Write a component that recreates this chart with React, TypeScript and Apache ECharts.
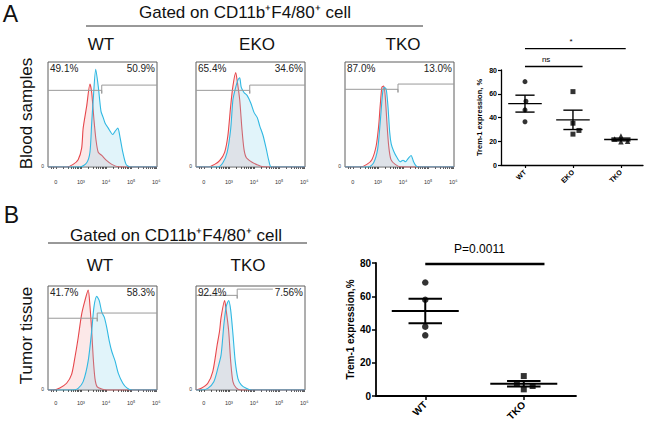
import React, { useEffect, useRef } from 'react';
import * as echarts from 'echarts';

const FONT = '"Liberation Sans", Arial, Helvetica, sans-serif';

// ---------- Flow cytometry histograms ----------
// x: display position (0 = "0", 1 = 10^3, 2 = 10^4, 3 = 10^5, 4 = 10^6); y: height in % of panel
const histTickValues = [0, 1, 2, 3, 4];
const histTickLabels = ['0', '10³', '10⁴', '10⁵', '10⁶'];
const HIST_MIN = -0.31;
const HIST_MAX = 4.03;

const histLeftPct = ['49.1%', '65.4%', '87.0%', '41.7%', '92.4%'];
const histRightPct = ['50.9%', '34.6%', '13.0%', '58.3%', '7.56%'];
const gateSplit = [1.83, 1.83, 1.8, 1.65, 1.33];
const gateLeftLevel = [73, 73, 74, 69, 91];
const gateRightLevel = [78, 78, 79, 74, 97];
const gateRightEnd = [4.03, 4.03, 4.03, 4.03, 2.75];

const isoAWt = [[-0.31, 0], [0.43, 0], [0.69, 2.5], [0.89, 7], [1.03, 18], [1.09, 37], [1.23, 58], [1.36, 79], [1.43, 71], [1.52, 45], [1.6, 26], [1.69, 14], [1.83, 11], [2.03, 6], [2.23, 2.5], [2.5, 0.3], [4.03, 0]];
const tremAWt = [[-0.31, 0], [0.96, 0], [1.23, 4], [1.36, 14], [1.43, 42], [1.49, 64], [1.59, 93], [1.69, 77], [1.8, 53], [1.89, 47], [1.96, 42], [2.09, 37], [2.27, 31], [2.36, 34], [2.47, 37], [2.56, 28], [2.67, 14], [2.8, 2.5], [2.96, 0], [4.03, 0]];
const isoAEko = [[-0.31, 0], [0.16, 0], [0.43, 2.5], [0.63, 6], [0.83, 14], [0.96, 30], [1.07, 58], [1.16, 77], [1.27, 90], [1.33, 82], [1.43, 64], [1.52, 36], [1.6, 17], [1.69, 9], [1.89, 5], [2.09, 2.5], [2.36, 0.3], [4.03, 0]];
const tremAEko = [[-0.31, 0], [0.56, 0], [0.76, 4], [0.93, 14], [1.07, 36], [1.16, 64], [1.25, 74], [1.36, 83], [1.43, 85], [1.49, 76], [1.6, 71], [1.73, 68], [1.87, 61], [2.0, 52], [2.13, 47], [2.23, 39], [2.36, 30], [2.49, 17], [2.59, 6], [2.69, 0], [4.03, 0]];
const isoATko = [[-0.31, 0], [0.29, 0], [0.56, 2.5], [0.76, 7], [0.93, 20], [1.03, 39], [1.09, 58], [1.16, 76], [1.23, 77], [1.29, 68], [1.36, 42], [1.43, 20], [1.52, 7], [1.69, 2.5], [1.89, 0.3], [4.03, 0]];
const tremATko = [[-0.31, 0], [0.63, 0], [0.83, 4], [0.99, 17], [1.09, 42], [1.19, 71], [1.25, 76], [1.33, 74], [1.4, 58], [1.47, 33], [1.53, 22], [1.63, 15], [1.76, 9], [1.89, 5], [2.0, 6.5], [2.1, 5], [2.2, 8], [2.32, 11], [2.42, 5], [2.52, 1], [2.63, 0], [4.03, 0]];
const isoBWt = [[-0.31, 0], [-0.1, 0], [0.16, 2], [0.43, 6.5], [0.63, 15], [0.76, 31], [0.89, 50], [1.03, 73], [1.16, 86], [1.29, 96], [1.36, 81], [1.43, 57], [1.49, 31], [1.56, 11], [1.65, 3], [1.83, 1], [2.03, 0], [4.03, 0]];
const tremBWt = [[-0.31, 0], [0.69, 0], [0.89, 1.6], [1.09, 8], [1.29, 28], [1.43, 57], [1.52, 80], [1.63, 90], [1.73, 86], [1.83, 75], [1.93, 70], [2.03, 60], [2.13, 47], [2.23, 37], [2.36, 28], [2.49, 16], [2.67, 6.5], [2.83, 2], [3.03, 0], [4.03, 0]];
const isoBTko = [[-0.31, 0], [-0.1, 1.6], [0.16, 6.5], [0.36, 18], [0.53, 43], [0.63, 57], [0.69, 70], [0.83, 86], [0.89, 77], [0.99, 57], [1.07, 28], [1.16, 8], [1.29, 2], [1.49, 0], [4.03, 0]];
const tremBTko = [[-0.31, 0], [-0.1, 0], [0.16, 1.6], [0.4, 8], [0.56, 21], [0.69, 34], [0.8, 63], [0.89, 80], [0.99, 86], [1.07, 77], [1.16, 54], [1.25, 28], [1.36, 11], [1.49, 5], [1.69, 1.6], [1.89, 0], [4.03, 0]];

const isoCurves = [isoAWt, isoAEko, isoATko, isoBWt, isoBTko];
const tremCurves = [tremAWt, tremAEko, tremATko, tremBWt, tremBTko];

// ---------- Dot plots ----------
const scatterACategories = ['WT', 'EKO', 'TKO'];
const scatterAWt = [70.2, 53.7, 46.4, 36.4];
const scatterAWtJitter = [0, 0.02, 0, 0];
const scatterAEko = [61.8, 35.2, 29.1, 26];
const scatterAEkoJitter = [0, 0, 0.125, 0];
const scatterATko = [22, 24.5, 19.5, 20];
const scatterATkoJitter = [-0.13, 0, 0.0, 0.14];
const sigAFrom = [0, 0];
const sigATo = [1.2, 2.1];
const sigALevel = [83, 98];
const sigATextX = [0.44, 0.96];
const sigALabels = ['ns', '*'];

const scatterBCategories = ['WT', 'TKO'];
const scatterBWt = [68.3, 57.9, 41.7, 36.5];
const scatterBWtJitter = [0, 0, 0, 0];
const scatterBTko = [12, 7.4, 6, 4];
const scatterBTkoJitter = [0, -0.07, 0.09, 0];
const sigBFrom = [0];
const sigBTo = [1.21];
const sigBLevel = [79.4];
const sigBTextX = [0.55];
const sigBLabels = ['P=0.0011'];

// ---------- layout ----------
const histBoxes = [
  { left: 48, top: 62, width: 109, height: 105 },
  { left: 196, top: 62, width: 109, height: 105 },
  { left: 345, top: 62, width: 109, height: 105 },
  { left: 48, top: 286, width: 109, height: 104 },
  { left: 196, top: 286, width: 109, height: 104 },
];
const histLabelMargin = [12, 12, 12, 10, 10];

function meanSem(vals: number[]) {
  const n = vals.length;
  const m = vals.reduce((a, b) => a + b, 0) / n;
  const sd = Math.sqrt(vals.reduce((a, b) => a + (b - m) * (b - m), 0) / (n - 1));
  const se = sd / Math.sqrt(n);
  return [m, m - se, m + se];
}

function minorTicks(): number[] {
  const out: number[] = [];
  for (let d = 0; d < 4; d++) {
    for (let k = 1; k <= 9; k++) out.push(d + Math.log10(k));
  }
  out.push(4);
  out.push(-0.2, -0.1);
  return out;
}

function errorBarRender(halfMean: number, halfCap: number, lw: number) {
  return (params: any, api: any) => {
    const x = api.value(0), m = api.value(1), lo = api.value(2), hi = api.value(3);
    const a = api.coord([x - halfMean, m]), b = api.coord([x + halfMean, m]);
    const c1 = api.coord([x - halfCap, hi]), c2 = api.coord([x + halfCap, hi]);
    const d1 = api.coord([x - halfCap, lo]), d2 = api.coord([x + halfCap, lo]);
    const v1 = api.coord([x, hi]), v2 = api.coord([x, lo]);
    const st = { stroke: '#000', lineWidth: lw };
    return {
      type: 'group',
      children: [
        { type: 'line', shape: { x1: a[0], y1: a[1], x2: b[0], y2: b[1] }, style: st },
        { type: 'line', shape: { x1: c1[0], y1: c1[1], x2: c2[0], y2: c2[1] }, style: st },
        { type: 'line', shape: { x1: d1[0], y1: d1[1], x2: d2[0], y2: d2[1] }, style: st },
        { type: 'line', shape: { x1: v1[0], y1: v1[1], x2: v2[0], y2: v2[1] }, style: st },
      ],
    };
  };
}

function sigRender(labels: string[], lw: number, fontSize: number, gap: number) {
  return (params: any, api: any) => {
    const from = api.value(0), to = api.value(1), lvl = api.value(2), tx = api.value(3);
    const p1 = api.coord([from, lvl]), p2 = api.coord([to, lvl]);
    const t = api.coord([tx, lvl]);
    return {
      type: 'group',
      children: [
        { type: 'line', shape: { x1: p1[0], y1: p1[1], x2: p2[0], y2: p2[1] }, style: { stroke: '#000', lineWidth: lw } },
        {
          type: 'text', x: t[0], y: t[1] - gap,
          style: { text: labels[params.dataIndex], align: 'center', verticalAlign: 'bottom', fontSize, fontFamily: FONT, fill: '#000' },
        },
      ],
    };
  };
}

function buildOption() {
  const grid: any[] = [];
  const xAxis: any[] = [];
  const yAxis: any[] = [];
  const series: any[] = [];
  const graphic: any[] = [];
  const minors = minorTicks();

  histBoxes.forEach((b, i) => {
    grid.push({ left: b.left, top: b.top, width: b.width, height: b.height, show: true, borderColor: '#5e5e5e', borderWidth: 1, backgroundColor: 'transparent' });
    xAxis.push({
      type: 'value', gridIndex: i, min: HIST_MIN, max: HIST_MAX,
      axisLine: { show: false, onZero: false },
      splitLine: { show: false },
      axisTick: { show: true, customValues: minors, length: 2, lineStyle: { color: '#333', width: 0.8 } },
      axisLabel: {
        customValues: histTickValues, margin: histLabelMargin[i], fontSize: 5.5, color: '#333', fontFamily: FONT,
        formatter: (v: number) => histTickLabels[histTickValues.indexOf(Math.round(v))] ?? '',
      },
    });
    yAxis.push({
      type: 'value', gridIndex: i, min: 0, max: 100,
      axisLine: { show: false, onZero: false }, axisTick: { show: false }, splitLine: { show: false },
      axisLabel: { show: false },
    });
    series.push({
      type: 'line', xAxisIndex: i, yAxisIndex: i, data: isoCurves[i], symbol: 'none', smooth: 0.25,
      lineStyle: { color: '#e6474c', width: 1.1 }, areaStyle: { color: 'rgba(236,130,130,0.26)' }, z: 2,
    });
    series.push({
      type: 'line', xAxisIndex: i, yAxisIndex: i, data: tremCurves[i], symbol: 'none', smooth: 0.25,
      lineStyle: { color: '#30b8e2', width: 1.1 }, areaStyle: { color: 'rgba(130,208,236,0.34)' }, z: 3,
    });
    series.push({
      type: 'line', xAxisIndex: i, yAxisIndex: i, symbol: 'none', z: 4,
      lineStyle: { color: '#9a9a9a', width: 1 },
      data: [
        [HIST_MIN, gateLeftLevel[i]], [gateSplit[i], gateLeftLevel[i]], [gateSplit[i], gateLeftLevel[i] - 3],
        [gateSplit[i], gateRightLevel[i]], [gateRightEnd[i], gateRightLevel[i]],
      ],
    });
    graphic.push({ type: 'text', left: b.left + 2, top: b.top + 1, z: 10, style: { text: histLeftPct[i], fontSize: 10, fontFamily: FONT, fill: '#222' } });
    graphic.push({ type: 'text', right: 646 - (b.left + b.width - 2), top: b.top + 1, z: 10, style: { text: histRightPct[i], fontSize: 10, fontFamily: FONT, fill: '#222' } });
    graphic.push({ type: 'text', x: b.left - 4, y: b.top + b.height - 1, z: 10, style: { text: '0', fontSize: 5, fontFamily: FONT, fill: '#333', align: 'right', verticalAlign: 'middle' } });
  });

  // Dot plot A (grid 5)
  grid.push({ left: 501, top: 70, width: 142, height: 95 });
  xAxis.push({
    type: 'value', gridIndex: 5, min: -0.5, max: 2.46,
    axisLine: { onZero: false, lineStyle: { color: '#000', width: 1.3 } }, splitLine: { show: false },
    axisTick: { customValues: [0, 1, 2], length: 3, lineStyle: { color: '#000', width: 1.2 } },
    axisLabel: { customValues: [0, 1, 2], rotate: 45, margin: 6, fontSize: 7, fontWeight: 'bold', color: '#000', fontFamily: FONT, formatter: (v: number) => scatterACategories[Math.round(v)] },
  });
  yAxis.push({
    type: 'value', gridIndex: 5, min: 0, max: 80, interval: 20,
    name: 'Trem-1 expression, %', nameLocation: 'middle', nameGap: 18,
    nameTextStyle: { fontSize: 7.5, fontWeight: 'bold', color: '#000', fontFamily: FONT },
    axisLine: { show: true, onZero: false, lineStyle: { color: '#000', width: 1.3 } }, splitLine: { show: false },
    axisTick: { show: true, length: 3, lineStyle: { color: '#000', width: 1.2 } },
    axisLabel: { fontSize: 7, fontWeight: 'bold', color: '#000', margin: 4, fontFamily: FONT },
  });
  const symA = ['circle', 'rect', 'triangle'];
  [[scatterAWt, scatterAWtJitter], [scatterAEko, scatterAEkoJitter], [scatterATko, scatterATkoJitter]].forEach(([vals, jit], g) => {
    series.push({
      type: 'scatter', xAxisIndex: 5, yAxisIndex: 5, symbol: symA[g], symbolSize: g === 2 ? 5.5 : 5,
      itemStyle: { color: '#000' }, data: (vals as number[]).map((v, k) => [g + (jit as number[])[k], v]), z: 5,
    });
  });
  series.push({
    type: 'custom', xAxisIndex: 5, yAxisIndex: 5, z: 6,
    renderItem: errorBarRender(0.35, 0.2, 1.4),
    data: [scatterAWt, scatterAEko, scatterATko].map((vals, g) => [g, ...meanSem(vals)]),
  });
  series.push({
    type: 'custom', xAxisIndex: 5, yAxisIndex: 5, z: 6, clip: false,
    renderItem: sigRender(sigALabels, 1.4, 8, 3),
    data: sigAFrom.map((f, k) => [f, sigATo[k], sigALevel[k], sigATextX[k]]),
    encode: { x: [0, 1, 3], y: 2 },
  });

  // Dot plot B (grid 6)
  grid.push({ left: 376, top: 263, width: 200, height: 133 });
  xAxis.push({
    type: 'value', gridIndex: 6, min: -0.5, max: 1.53,
    axisLine: { onZero: false, lineStyle: { color: '#000', width: 1.8 } }, splitLine: { show: false },
    axisTick: { customValues: [0, 1], length: 4, lineStyle: { color: '#000', width: 1.5 } },
    axisLabel: { customValues: [0, 1], rotate: 45, margin: 7, fontSize: 10, fontWeight: 'bold', color: '#000', fontFamily: FONT, formatter: (v: number) => scatterBCategories[Math.round(v)] },
  });
  yAxis.push({
    type: 'value', gridIndex: 6, min: 0, max: 80, interval: 20,
    name: 'Trem-1 expression,%', nameLocation: 'middle', nameGap: 20,
    nameTextStyle: { fontSize: 10, fontWeight: 'bold', color: '#000', fontFamily: FONT },
    axisLine: { show: true, onZero: false, lineStyle: { color: '#000', width: 1.8 } }, splitLine: { show: false },
    axisTick: { show: true, length: 4, lineStyle: { color: '#000', width: 1.5 } },
    axisLabel: { fontSize: 10, fontWeight: 'bold', color: '#000', margin: 5, fontFamily: FONT },
  });
  const symB = ['circle', 'rect'];
  [[scatterBWt, scatterBWtJitter], [scatterBTko, scatterBTkoJitter]].forEach(([vals, jit], g) => {
    series.push({
      type: 'scatter', xAxisIndex: 6, yAxisIndex: 6, symbol: symB[g], symbolSize: g === 0 ? 6.5 : 6,
      itemStyle: { color: '#000' }, data: (vals as number[]).map((v, k) => [g + (jit as number[])[k], v]), z: 5,
    });
  });
  series.push({
    type: 'custom', xAxisIndex: 6, yAxisIndex: 6, z: 6,
    renderItem: errorBarRender(0.34, 0.17, 2),
    data: [scatterBWt, scatterBTko].map((vals, g) => [g, ...meanSem(vals)]),
  });
  series.push({
    type: 'custom', xAxisIndex: 6, yAxisIndex: 6, z: 6, clip: false,
    renderItem: sigRender(sigBLabels, 2.4, 12, 9),
    data: sigBFrom.map((f, k) => [f, sigBTo[k], sigBLevel[k], sigBTextX[k]]),
    encode: { x: [0, 1, 3], y: 2 },
  });

  // Texts and rules
  const txt = (text: string, x: number, y: number, size: number, extra: any = {}) => ({
    type: 'text', x, y, z: 10,
    style: { text, fontSize: size, fontFamily: FONT, fill: '#111', align: 'center', verticalAlign: 'middle', ...extra },
  });
  graphic.push(txt('A', 10.5, 14, 23));
  graphic.push(txt('B', 11.5, 215, 23));
  graphic.push(txt('Gated on CD11b⁺F4/80⁺ cell', 245, 12, 17));
  graphic.push(txt('Gated on CD11b⁺F4/80⁺ cell', 176, 235, 17));
  graphic.push({ type: 'line', z: 10, shape: { x1: 86, y1: 26, x2: 423, y2: 26 }, style: { stroke: '#333', lineWidth: 1 } });
  graphic.push({ type: 'line', z: 10, shape: { x1: 48, y1: 243, x2: 307, y2: 243 }, style: { stroke: '#333', lineWidth: 1 } });
  graphic.push(txt('WT', 101, 44, 17));
  graphic.push(txt('EKO', 257, 44, 17));
  graphic.push(txt('TKO', 403, 44, 17));
  graphic.push(txt('WT', 100, 265, 17));
  graphic.push(txt('TKO', 248, 265, 17));
  graphic.push({ ...txt('Blood samples', 26.7, 113.5, 17), rotation: Math.PI / 2 });
  graphic.push({ ...txt('Tumor tissue', 26.7, 335.5, 17), rotation: Math.PI / 2 });

  return {
    animation: false,
    backgroundColor: '#fff',
    grid, xAxis, yAxis, series, graphic,
  };
}

export default function App() {
  const ref = useRef<HTMLDivElement>(null);
  useEffect(() => {
    const chart = echarts.init(ref.current!, null, { renderer: 'svg' });
    chart.setOption(buildOption() as any);
    return () => chart.dispose();
  }, []);
  return <div ref={ref} style={{ position: 'absolute', left: 0, top: 0, width: 646, height: 424, background: '#fff' }} />;
}
